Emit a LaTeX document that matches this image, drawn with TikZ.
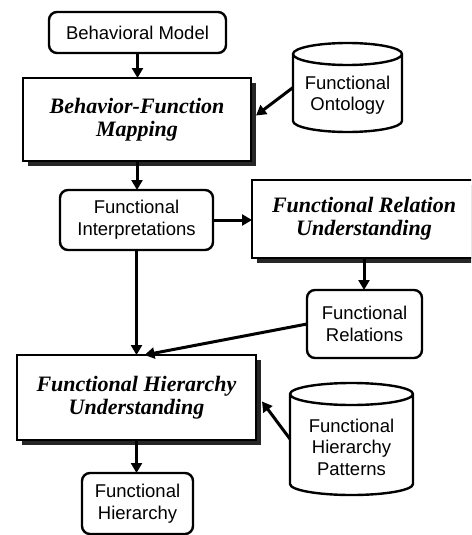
\documentclass[tikz,border=0pt]{standalone}
\usepackage{fontspec}
\setmainfont{Liberation Serif}
\newfontfamily\labelsans{Liberation Sans}
\usetikzlibrary{arrows.meta,calc,shadows}

\tikzset{
  every node/.style={inner sep=0pt, outer sep=0pt},
  datanode/.style={draw, rounded corners=8pt, line width=2.4pt, fill=white,
    align=center, font=\labelsans\fontsize{18.5}{22}\selectfont},
  procnode/.style={draw, line width=2.4pt, fill=white, align=center,
    font=\bfseries\itshape\fontsize{22}{23}\selectfont,
    drop shadow={shadow xshift=4.5pt, shadow yshift=-4.5pt, fill=black!85, opacity=1}},
  storenode/.style={inner sep=0pt},
  storeline/.style={draw, line width=2.4pt, fill=white},
  storetext/.style={align=center, font=\labelsans\fontsize{18.5}{21.5}\selectfont},
  flow/.style={line width=3pt, -{Triangle[length=10pt,width=11pt]}},
}

% database cylinder drawn over the area of a named node
\newcommand\storeshape[1]{%
  \path[storeline] let \p1=(#1.north west), \p2=(#1.south east),
      \n1={(\x2-\x1)/2} in
    (\x1,\y1-11pt) -- (\x1,\y2+11pt)
      arc[start angle=180, end angle=360, x radius=\n1, y radius=11pt]
      -- (\x2,\y1-11pt)
      arc[start angle=0, end angle=180, x radius=\n1, y radius=11pt] -- cycle
    (\x1,\y1-11pt)
      arc[start angle=180, end angle=360, x radius=\n1, y radius=11pt];
}

\begin{document}
\begin{tikzpicture}[x=1pt,y=-1pt]
  \clip (0,0) rectangle (471,535);

  % boxes
  \node[datanode, minimum width=177pt, minimum height=41pt] (bm) at (137.5,32.5) {Behavioral Model};
  \node[procnode, minimum width=228pt, minimum height=83pt] (bfm) at (137,119.5) {Behavior-Function\\Mapping};
  \node[storenode, minimum width=109pt, minimum height=89pt] (fo) at (347.5,87.5) {};
  \storeshape{fo}
  \node[storetext] (fotext) at ($(fo.center)+(0,7.5)$) {Functional\\Ontology};

  \node[datanode, minimum width=153pt, minimum height=60pt] (fi) at (136.5,220) {Functional\\Interpretations};
  \node[procnode, minimum width=224pt, minimum height=78pt] (fru) at (364,219) {Functional Relation\\Understanding};
  \node[datanode, minimum width=115pt, minimum height=68pt] (fr) at (364.5,324) {Functional\\Relations};

  \node[procnode, minimum width=239pt, minimum height=85pt] (fhu) at (136.5,397.5) {Functional Hierarchy\\Understanding};
  \node[storenode, minimum width=123pt, minimum height=112pt] (fhp) at (351.5,439) {};
  \storeshape{fhp}
  \node[storetext] (fhptext) at ($(fhp.center)+(0,8)$) {Functional\\Hierarchy\\Patterns};

  \node[datanode, minimum width=111pt, minimum height=61pt] (fh) at (137.5,503.5) {Functional\\Hierarchy};

  % connectors
  \draw[flow] (bm.south) -- (bm.south |- bfm.north);
  \draw[flow] (fo.west) -- ($(bfm.east)+(5,-4)$);
  \draw[flow] (bfm.south) -- (bfm.south |- fi.north);
  \draw[flow] (fi.east) -- (fi.east -| fru.west);
  \draw[flow] (fru.south) -- (fru.south |- fr.north);
  \draw[flow] (fi.south) -- (fi.south |- fhu.north);
  \draw[flow] (fr.west) -- ($(fhu.north)+(8,0)$);
  \draw[flow] (fhp.west) -- ($(fhu.east)+(6,4)$);
  \draw[flow] (fhu.south) -- (fhu.south |- fh.north);
\end{tikzpicture}
\end{document}
